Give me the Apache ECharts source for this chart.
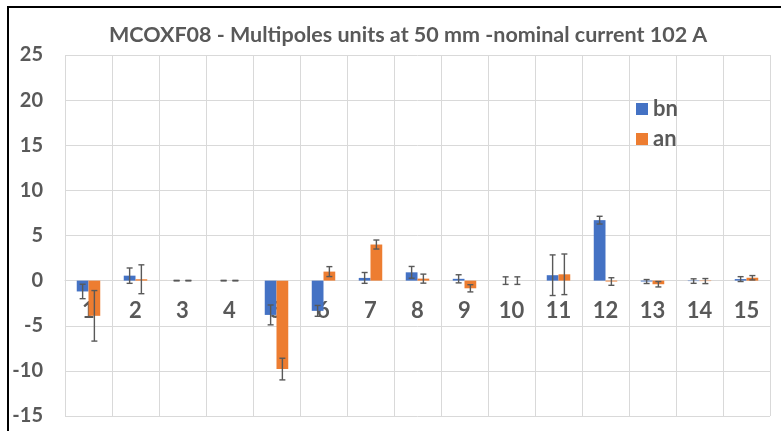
<!DOCTYPE html>
<html>
<head>
<meta charset="utf-8">
<script src="https://cdn.jsdelivr.net/npm/echarts@6/dist/echarts.min.js"></script>
<style>
  html, body { margin: 0; padding: 0; background: #fff; }
  #chart { width: 781px; height: 431px; }
</style>
</head>
<body>
<div id="chart"></div>
<script>
// Multipole order (x categories)
const orders = ['1','2','3','4','5','6','7','8','9','10','11','12','13','14','15'];
// Normal (bn) and skew (an) multipole components, in units at 50 mm
const bnValues = [-1.2, 0.55, 0, 0, -3.8, -3.35, 0.3, 0.92, 0.2, 0, 0.6, 6.7, -0.1, -0.05, 0.17];
const anValues = [-3.9, 0.15, 0, 0, -9.8, 1.0, 4.0, 0.22, -0.85, 0, 0.7, -0.1, -0.4, -0.05, 0.32];
// Error bar half-widths
const bnErrors = [0.8, 0.85, 0.03, 0.03, 1.1, 0.6, 0.6, 0.65, 0.45, 0.42, 2.25, 0.43, 0.22, 0.25, 0.27];
const anErrors = [2.8, 1.6, 0.03, 0.03, 1.2, 0.55, 0.5, 0.5, 0.4, 0.42, 2.25, 0.42, 0.3, 0.28, 0.24];
// Value axis ticks
const yTicks = [-15, -10, -5, 0, 5, 10, 15, 20, 25];

const TEXT = '#595959';
const GRIDC = '#d9d9d9';
const FONT = 'Lato, "Open Sans", sans-serif';

const GRID = { left: 65, right: 11, top: 55, bottom: 15 };
const PLOT_H = 431 - GRID.top - GRID.bottom;
const Y_MIN = yTicks[0], Y_MAX = yTicks[yTicks.length - 1];
// distance from the plot bottom up to the zero line, so the category labels sit under it
const ZERO_OFFSET = PLOT_H * (0 - Y_MIN) / (Y_MAX - Y_MIN);

// Whisker drawing for one bar series; side = -1 (left bar) or +1 (right bar)
function errorBars(values, errors, side) {
  return {
    type: 'custom',
    z: 5,
    silent: true,
    data: values.map((v, i) => [i, v, errors[i]]),
    renderItem: function (params, api) {
      const i = api.value(0), v = api.value(1), e = api.value(2);
      const band = api.size([1, 0])[0];
      const barW = band * 0.25;
      const c = api.coord([i, v]);
      const x = c[0] + side * barW / 2;
      const top = api.coord([i, v + e])[1];
      const bot = api.coord([i, v - e])[1];
      const cap = 3;
      const style = { stroke: TEXT, lineWidth: 1.4, fill: null };
      return {
        type: 'group',
        children: [
          { type: 'line', shape: { x1: x, y1: top, x2: x, y2: bot }, style: style },
          { type: 'line', shape: { x1: x - cap, y1: top, x2: x + cap, y2: top }, style: style },
          { type: 'line', shape: { x1: x - cap, y1: bot, x2: x + cap, y2: bot }, style: style }
        ]
      };
    }
  };
}

const chart = echarts.init(document.getElementById('chart'));
chart.setOption({
  animation: false,
  backgroundColor: '#fff',
  title: {
    text: 'MCOXF08 - Multipoles units at 50 mm -nominal current 102 A',
    left: 104,
    top: 19,
    textStyle: { fontFamily: FONT, fontSize: 21.5, fontWeight: 'bold', color: TEXT }
  },
  legend: {
    orient: 'vertical',
    left: 631,
    top: 93,
    itemWidth: 12,
    itemHeight: 12,
    itemGap: 8,
    icon: 'rect',
    data: ['bn', 'an'],
    textStyle: { fontFamily: FONT, fontSize: 22, fontWeight: 'bold', color: TEXT }
  },
  grid: GRID,
  xAxis: {
    type: 'category',
    data: orders,
    position: 'bottom',
    offset: -ZERO_OFFSET,
    axisLine: { show: true, onZero: false, lineStyle: { color: GRIDC, width: 1 } },
    axisTick: { show: false },
    splitLine: { show: true, lineStyle: { color: GRIDC, width: 1 } },
    axisLabel: { fontFamily: FONT, fontSize: 22, fontWeight: 'bold', color: TEXT, margin: 19 }
  },
  yAxis: {
    type: 'value',
    min: Y_MIN,
    max: Y_MAX,
    interval: 5,
    axisLine: { show: false },
    axisTick: { show: false },
    splitLine: { lineStyle: { color: GRIDC, width: 1 } },
    axisLabel: { fontFamily: FONT, fontSize: 20, fontWeight: 'bold', color: TEXT, margin: 22 }
  },
  series: [
    { name: 'bn', type: 'bar', data: bnValues, barGap: '0%', barCategoryGap: '50%',
      itemStyle: { color: '#4472C4' } },
    { name: 'an', type: 'bar', data: anValues, barGap: '0%', barCategoryGap: '50%',
      itemStyle: { color: '#ED7D31' } },
    errorBars(bnValues, bnErrors, -1),
    errorBars(anValues, anErrors, 1)
  ],
  graphic: [{
    type: 'rect',
    silent: true,
    shape: { x: 8, y: 7, width: 800, height: 500 },
    style: { fill: null, stroke: '#000', lineWidth: 2 }
  }]
});
</script>
</body>
</html>
